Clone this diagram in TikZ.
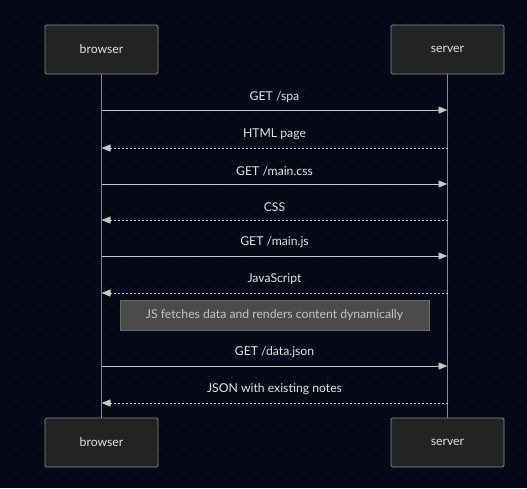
\documentclass[tikz,border=0pt]{standalone}
\usepackage{fontspec}
\setmainfont{Lato}
\usetikzlibrary{arrows.meta}
\definecolor{bgnavy}{HTML}{040817}
\definecolor{griddot}{HTML}{1B1F2E}
\definecolor{actorfill}{HTML}{232323}
\definecolor{actorline}{HTML}{8A8A8A}
\definecolor{msgline}{HTML}{C8C8C8}
\definecolor{msgtext}{HTML}{E4E4E4}
\definecolor{notefill}{HTML}{4B4B49}
\definecolor{noteline}{HTML}{6A6A6A}
\definecolor{notetext}{HTML}{C4C4C4}
\tikzset{
  actor/.style={draw=actorline, fill=actorfill, rounded corners=1.5pt, line width=0.9pt,
    minimum width=113pt, minimum height=49pt, inner sep=0pt, text=msgtext, font=\fontsize{12.2}{14}\selectfont},
  lifeline/.style={draw=actorline, line width=0.9pt},
  callmsg/.style={draw=msgline, line width=0.9pt, -{Triangle[length=9pt,width=7pt]}},
  replymsg/.style={draw=msgline, line width=0.9pt, dash pattern=on 2pt off 2pt, -{Triangle[length=9pt,width=7pt]}},
  msglabel/.style={text=msgtext, font=\fontsize{12.2}{14}\selectfont, inner sep=0pt},
  notebox/.style={draw=noteline, fill=notefill, line width=0.9pt, minimum width=309pt,
    minimum height=30pt, inner sep=0pt, text=notetext, font=\fontsize{12.2}{14}\selectfont}
}
\begin{document}
\begin{tikzpicture}[x=1pt, y=-1pt]

    % Background and dot grid
    \fill[bgnavy] (0,0) rectangle (527,488);
    \useasboundingbox (0,0) rectangle (527,488);
    \foreach \gx in {16,40,...,520}
      \foreach \gy in {17.5,41.5,...,480}
        \fill[griddot] (\gx,\gy) circle (1.2pt);

    % Participants
    \node[actor] (browsertop) at (101.5,49.5) {browser};
    \node[actor] (servertop) at (447.5,49.5) {server};
    \node[actor] (browserbot) at (101.5,442.5) {browser};
    \node[actor] (serverbot) at (447.5,442.5) {server};

    % Lifelines
    \draw[lifeline] (browsertop) -- (browserbot);
    \draw[lifeline] (servertop) -- (serverbot);

    % Message end points
    \coordinate (b1) at (101.5,110); \coordinate (s1) at (447.5,110);
    \coordinate (b2) at (101.5,148); \coordinate (s2) at (447.5,148);
    \coordinate (b3) at (101.5,184); \coordinate (s3) at (447.5,184);
    \coordinate (b4) at (101.5,220); \coordinate (s4) at (447.5,220);
    \coordinate (b5) at (101.5,256); \coordinate (s5) at (447.5,256);
    \coordinate (b6) at (101.5,293); \coordinate (s6) at (447.5,293);
    \coordinate (b7) at (101.5,366); \coordinate (s7) at (447.5,366);
    \coordinate (b8) at (101.5,403); \coordinate (s8) at (447.5,403);

    % Requests and responses
    \draw[callmsg] (b1) -- (s1) node[msglabel, midway, yshift=12.5pt] (spalbl) {GET /spa};
    \draw[replymsg] (s2) -- (b2) node[msglabel, midway, yshift=13.5pt] (htmllbl) {HTML page};
    \draw[callmsg] (b3) -- (s3) node[msglabel, midway, yshift=12.5pt] (csslbl) {GET /main.css};
    \draw[replymsg] (s4) -- (b4) node[msglabel, midway, yshift=12.5pt] (cssreslbl) {CSS};
    \draw[callmsg] (b5) -- (s5) node[msglabel, midway, yshift=13.5pt] (jslbl) {GET /main.js};
    \draw[replymsg] (s6) -- (b6) node[msglabel, midway, yshift=13.5pt] (jsreslbl) {JavaScript};

    % Note over both
    \node[notebox] (jsnote) at (274.5,315) {JS fetches data and renders content dynamically};

    \draw[callmsg] (b7) -- (s7) node[msglabel, midway, yshift=13.5pt] (datalbl) {GET /data.json};
    \draw[replymsg] (s8) -- (b8) node[msglabel, midway, yshift=13.5pt] (jsonlbl) {JSON with existing notes};
\end{tikzpicture}
\end{document}
